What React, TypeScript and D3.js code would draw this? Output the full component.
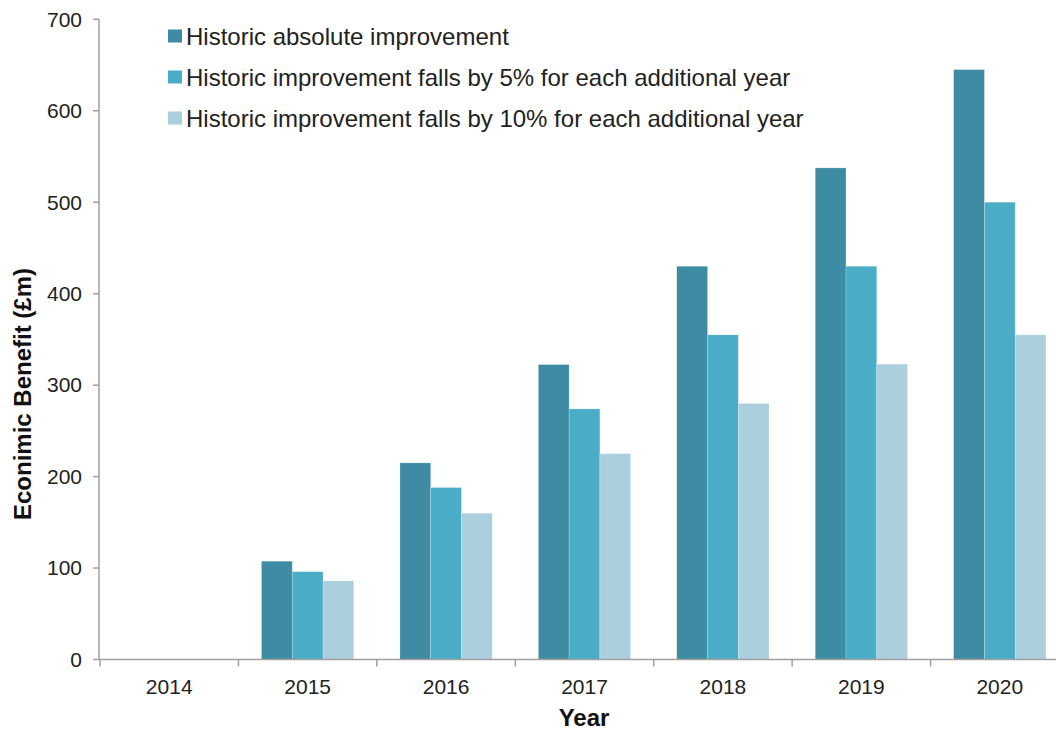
import * as d3 from "d3";
import { useRef, useEffect } from "react";

const years = ["2014", "2015", "2016", "2017", "2018", "2019", "2020"];
const absolute = [0, 107.5, 215, 322.5, 430, 537.5, 645];
const fall5 = [0, 96, 188, 274, 355, 430, 500];
const fall10 = [0, 86, 160, 225, 280, 323, 355];
const seriesNames = [
  "Historic absolute improvement",
  "Historic improvement falls by 5% for each additional year",
  "Historic improvement falls by 10% for each additional year",
];
const seriesColors = ["#3d8ca3", "#4aacc6", "#abcfdd"];
const yTicks = [0, 100, 200, 300, 400, 500, 600, 700];

const W = 1056;
const H = 733;

function App() {
  const ref = useRef<SVGSVGElement>(null);

  useEffect(() => {
    draw();
  }, []);

  const draw = () => {
    const svg = d3.select(ref.current);
    svg.selectAll("*").remove();

    const font = "'Liberation Sans', Arial, sans-serif";
    const axisColor = "#a0a0a0";

    const x = d3.scaleBand().domain(years).range([100, 1069]).paddingInner(0).paddingOuter(0);
    const y = d3.scaleLinear().domain([0, 700]).range([659.5, 19.3]);

    // group of 3 bars takes 3/4.5 of the band (gap width 150%)
    const barW = x.bandwidth() / 4.5;
    const inner = d3.scaleBand().domain(["0", "1", "2"]).range([0, barW * 3]);

    const series = [absolute, fall5, fall10];

    series.forEach((vals, si) => {
      svg
        .append("g")
        .selectAll("rect")
        .data(vals.map((v, i) => ({ year: years[i], v })))
        .join("rect")
        .attr("x", (d) => (x(d.year) as number) + barW * 0.75 + (inner(String(si)) as number))
        .attr("y", (d) => y(d.v))
        .attr("width", inner.bandwidth())
        .attr("height", (d) => y(0) - y(d.v))
        .attr("fill", seriesColors[si])
        .attr("stroke", "rgba(255,255,255,0.35)")
        .attr("stroke-width", 0.6);
    });

    // y axis
    const yAxis = svg.append("g").attr("transform", "translate(99,0)");
    yAxis
      .append("line")
      .attr("x1", 0)
      .attr("x2", 0)
      .attr("y1", y(700))
      .attr("y2", y(0))
      .attr("stroke", axisColor)
      .attr("stroke-width", 1.5);
    yAxis
      .selectAll("line.tick")
      .data(yTicks)
      .join("line")
      .attr("class", "tick")
      .attr("x1", -6)
      .attr("x2", 0)
      .attr("y1", (d) => y(d))
      .attr("y2", (d) => y(d))
      .attr("stroke", axisColor)
      .attr("stroke-width", 1.5);
    yAxis
      .selectAll("text")
      .data(yTicks)
      .join("text")
      .attr("x", -17)
      .attr("y", (d) => y(d))
      .attr("dy", "0.35em")
      .attr("text-anchor", "end")
      .attr("font-family", font)
      .attr("font-size", 21)
      .attr("fill", "#222")
      .text((d) => d);

    // x axis
    const xAxis = svg.append("g").attr("transform", `translate(0,${y(0)})`);
    xAxis
      .append("line")
      .attr("x1", 99)
      .attr("x2", 1069)
      .attr("stroke", axisColor)
      .attr("stroke-width", 1.5);
    xAxis
      .selectAll("line.tick")
      .data(years.concat(["end"]))
      .join("line")
      .attr("class", "tick")
      .attr("x1", (d, i) => 100 + i * x.step())
      .attr("x2", (d, i) => 100 + i * x.step())
      .attr("y1", 0)
      .attr("y2", 7)
      .attr("stroke", axisColor)
      .attr("stroke-width", 1.5);
    xAxis
      .selectAll("text")
      .data(years)
      .join("text")
      .attr("x", (d) => (x(d) as number) + x.bandwidth() / 2)
      .attr("y", 34)
      .attr("text-anchor", "middle")
      .attr("font-family", font)
      .attr("font-size", 21)
      .attr("fill", "#222")
      .text((d) => d);

    // axis titles
    svg
      .append("text")
      .attr("x", 584)
      .attr("y", 726)
      .attr("text-anchor", "middle")
      .attr("font-family", font)
      .attr("font-weight", "bold")
      .attr("font-size", 24)
      .attr("fill", "#111")
      .text("Year");
    svg
      .append("text")
      .attr("transform", "translate(31,394) rotate(-90)")
      .attr("text-anchor", "middle")
      .attr("font-family", font)
      .attr("font-weight", "bold")
      .attr("font-size", 24)
      .attr("fill", "#111")
      .text("Econimic Benefit (£m)");

    // legend
    const legend = svg
      .append("g")
      .selectAll("g")
      .data(seriesNames)
      .join("g")
      .attr("transform", (d, i) => `translate(168,${36 + i * 41})`);
    legend
      .append("rect")
      .attr("x", 0)
      .attr("y", -6.5)
      .attr("width", 14)
      .attr("height", 13)
      .attr("fill", (d, i) => seriesColors[i]);
    legend
      .append("text")
      .attr("x", 18)
      .attr("y", 0)
      .attr("dy", "0.36em")
      .attr("font-family", font)
      .attr("font-size", 24)
      .attr("fill", "#222")
      .text((d) => d);
  };

  return (
    <svg
      ref={ref}
      width={W}
      height={H}
      style={{ position: "absolute", left: 0, top: 0, background: "#fff" }}
    ></svg>
  );
}

export default App;
